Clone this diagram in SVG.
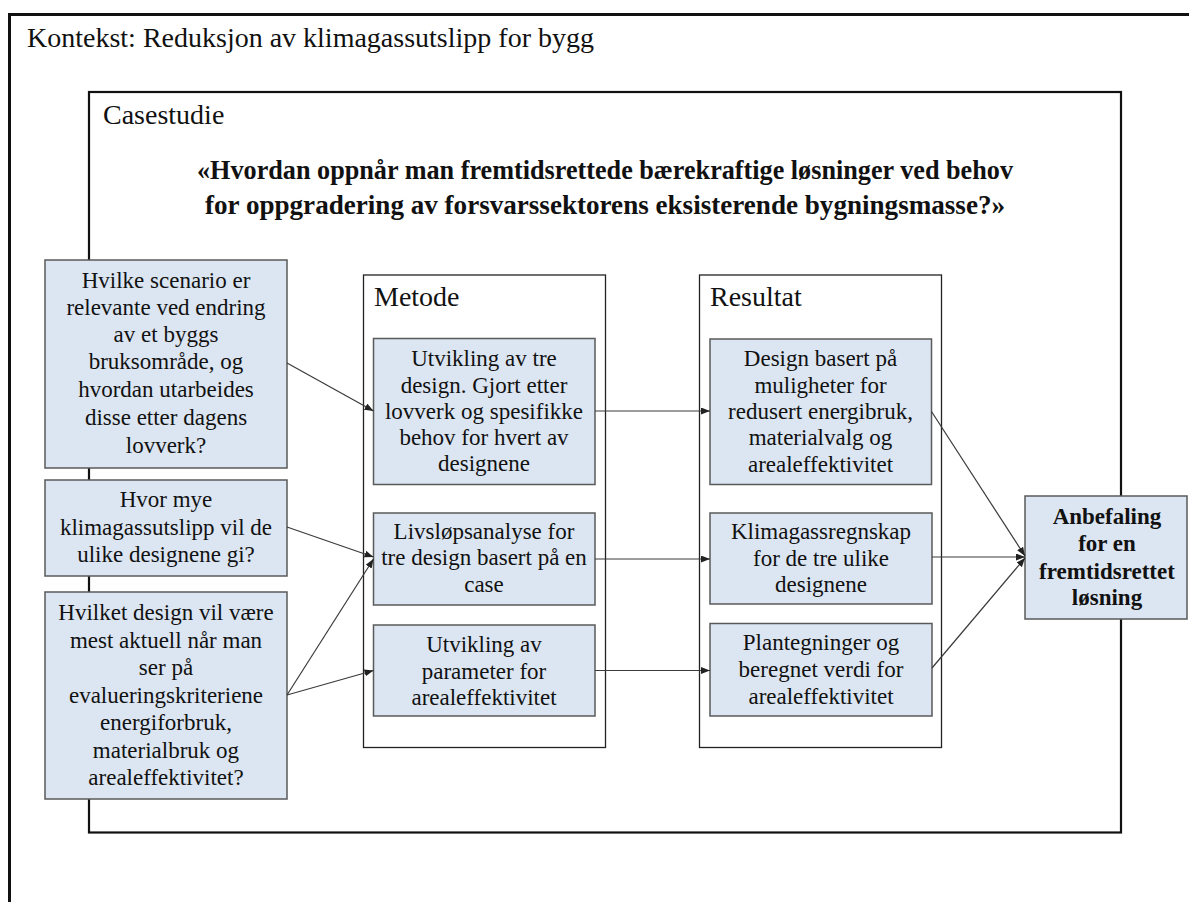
<svg xmlns="http://www.w3.org/2000/svg" width="1189" height="902" viewBox="0 0 1189 902">
  <style>
    .frame { fill: none; stroke: #111; }
    .col { fill: #fff; stroke: #222; stroke-width: 1.3; }
    .box { fill: #dce6f2; stroke: #5a5a5a; stroke-width: 1.5; }
    text { font-family: 'Liberation Serif', 'DejaVu Serif', serif; fill: #111; }
    .t { font-size: 23px; text-anchor: middle; }
    .tb { font-size: 23px; font-weight: bold; text-anchor: middle; }
    .lbl { font-size: 28px; }
    .q { font-size: 27px; font-weight: bold; text-anchor: middle; }
    .conn { fill: none; stroke: #3a3a3a; stroke-width: 1.2; marker-end: url(#arrow); }
  </style>
  <defs>
    <marker id="arrow" markerUnits="userSpaceOnUse" markerWidth="10" markerHeight="8" refX="9" refY="3.5" orient="auto">
      <path d="M0,0 L9,3.5 L0,7 z" fill="#222"/>
    </marker>
  </defs>

  <rect width="1189" height="902" fill="#fff"/>

  <!-- context frame (open to the right and bottom) -->
  <g id="context">
    <path class="frame" d="M9.5,902 V14.5 H1189" stroke-width="3"/>
    <text class="lbl" x="27" y="47">Kontekst: Reduksjon av klimagassutslipp for bygg</text>
  </g>

  <!-- case study frame -->
  <g id="casestudie">
    <rect class="frame" x="89" y="92" width="1032" height="740.5" stroke-width="2.2"/>
    <text class="lbl" x="103" y="124">Casestudie</text>
    <text class="q" x="605" y="179" textLength="816" lengthAdjust="spacingAndGlyphs">«Hvordan oppnår man fremtidsrettede bærekraftige løsninger ved behov</text>
    <text class="q" x="605" y="214" textLength="800" lengthAdjust="spacingAndGlyphs">for oppgradering av forsvarssektorens eksisterende bygningsmasse?»</text>
  </g>

  <!-- column containers -->
  <g id="metode">
    <rect class="col" x="363.5" y="275" width="242" height="472.5"/>
    <text class="lbl" x="374" y="306">Metode</text>
  </g>
  <g id="resultat">
    <rect class="col" x="699.5" y="275" width="242" height="472.5"/>
    <text class="lbl" x="710" y="306">Resultat</text>
  </g>

  <!-- research questions -->
  <g id="q1">
    <rect class="box" x="45" y="260" width="242" height="208"/>
    <text class="t" x="166" y="287.5">Hvilke scenario er</text>
    <text class="t" x="166" y="315">relevante ved endring</text>
    <text class="t" x="166" y="342">av et byggs</text>
    <text class="t" x="166" y="369">bruksområde, og</text>
    <text class="t" x="166" y="397">hvordan utarbeides</text>
    <text class="t" x="166" y="425">disse etter dagens</text>
    <text class="t" x="166" y="453">lovverk?</text>
  </g>
  <g id="q2">
    <rect class="box" x="45" y="480" width="242" height="96"/>
    <text class="t" x="166" y="507">Hvor mye</text>
    <text class="t" x="166" y="534.5">klimagassutslipp vil de</text>
    <text class="t" x="166" y="562">ulike designene gi?</text>
  </g>
  <g id="q3">
    <rect class="box" x="45" y="592" width="242" height="207"/>
    <text class="t" x="166" y="620">Hvilket design vil være</text>
    <text class="t" x="166" y="647.5">mest aktuell når man</text>
    <text class="t" x="166" y="675">ser på</text>
    <text class="t" x="166" y="702.5">evalueringskriteriene</text>
    <text class="t" x="166" y="730">energiforbruk,</text>
    <text class="t" x="166" y="757.5">materialbruk og</text>
    <text class="t" x="166" y="785">arealeffektivitet?</text>
  </g>

  <!-- method steps -->
  <g id="m1">
    <rect class="box" x="373.5" y="338.5" width="221.5" height="146"/>
    <text class="t" x="484" y="366">Utvikling av tre</text>
    <text class="t" x="484" y="392.5">design. Gjort etter</text>
    <text class="t" x="484" y="419">lovverk og spesifikke</text>
    <text class="t" x="484" y="445">behov for hvert av</text>
    <text class="t" x="484" y="471">designene</text>
  </g>
  <g id="m2">
    <rect class="box" x="373.5" y="513" width="221.5" height="92"/>
    <text class="t" x="484" y="538.5">Livsløpsanalyse for</text>
    <text class="t" x="484" y="565">tre design basert på en</text>
    <text class="t" x="484" y="591.5">case</text>
  </g>
  <g id="m3">
    <rect class="box" x="373.5" y="625" width="221.5" height="91"/>
    <text class="t" x="484" y="652">Utvikling av</text>
    <text class="t" x="484" y="678.5">parameter for</text>
    <text class="t" x="484" y="705">arealeffektivitet</text>
  </g>

  <!-- results -->
  <g id="r1">
    <rect class="box" x="710" y="339" width="221.5" height="145.5"/>
    <text class="t" x="820.5" y="366">Design basert på</text>
    <text class="t" x="820.5" y="392.5">muligheter for</text>
    <text class="t" x="820.5" y="419">redusert energibruk,</text>
    <text class="t" x="820.5" y="445">materialvalg og</text>
    <text class="t" x="820.5" y="471.5">arealeffektivitet</text>
  </g>
  <g id="r2">
    <rect class="box" x="710" y="513" width="222" height="91"/>
    <text class="t" x="821" y="539">Klimagassregnskap</text>
    <text class="t" x="821" y="565.5">for de tre ulike</text>
    <text class="t" x="821" y="592">designene</text>
  </g>
  <g id="r3">
    <rect class="box" x="710" y="623.5" width="222" height="92.5"/>
    <text class="t" x="821" y="650">Plantegninger og</text>
    <text class="t" x="821" y="677">beregnet verdi for</text>
    <text class="t" x="821" y="703.5">arealeffektivitet</text>
  </g>

  <!-- recommendation -->
  <g id="anbefaling">
    <rect class="box" x="1025" y="496" width="162" height="123"/>
    <text class="tb" x="1107" y="523.5">Anbefaling</text>
    <text class="tb" x="1107" y="551">for en</text>
    <text class="tb" x="1107" y="578.5">fremtidsrettet</text>
    <text class="tb" x="1107" y="605">løsning</text>
  </g>

  <!-- connectors -->
  <g id="connectors">
    <line class="conn" x1="287" y1="363" x2="373.5" y2="411"/>
    <line class="conn" x1="287" y1="527" x2="373.5" y2="557"/>
    <line class="conn" x1="287" y1="695" x2="373.5" y2="559"/>
    <line class="conn" x1="287" y1="695" x2="373.5" y2="670.5"/>
    <line class="conn" x1="595" y1="411" x2="710" y2="411"/>
    <line class="conn" x1="595" y1="559" x2="710" y2="559"/>
    <line class="conn" x1="595" y1="670.5" x2="710" y2="670.5"/>
    <line class="conn" x1="931.5" y1="411.5" x2="1025" y2="556"/>
    <line class="conn" x1="932" y1="557" x2="1025" y2="557"/>
    <line class="conn" x1="932" y1="668" x2="1025" y2="558"/>
  </g>
</svg>
